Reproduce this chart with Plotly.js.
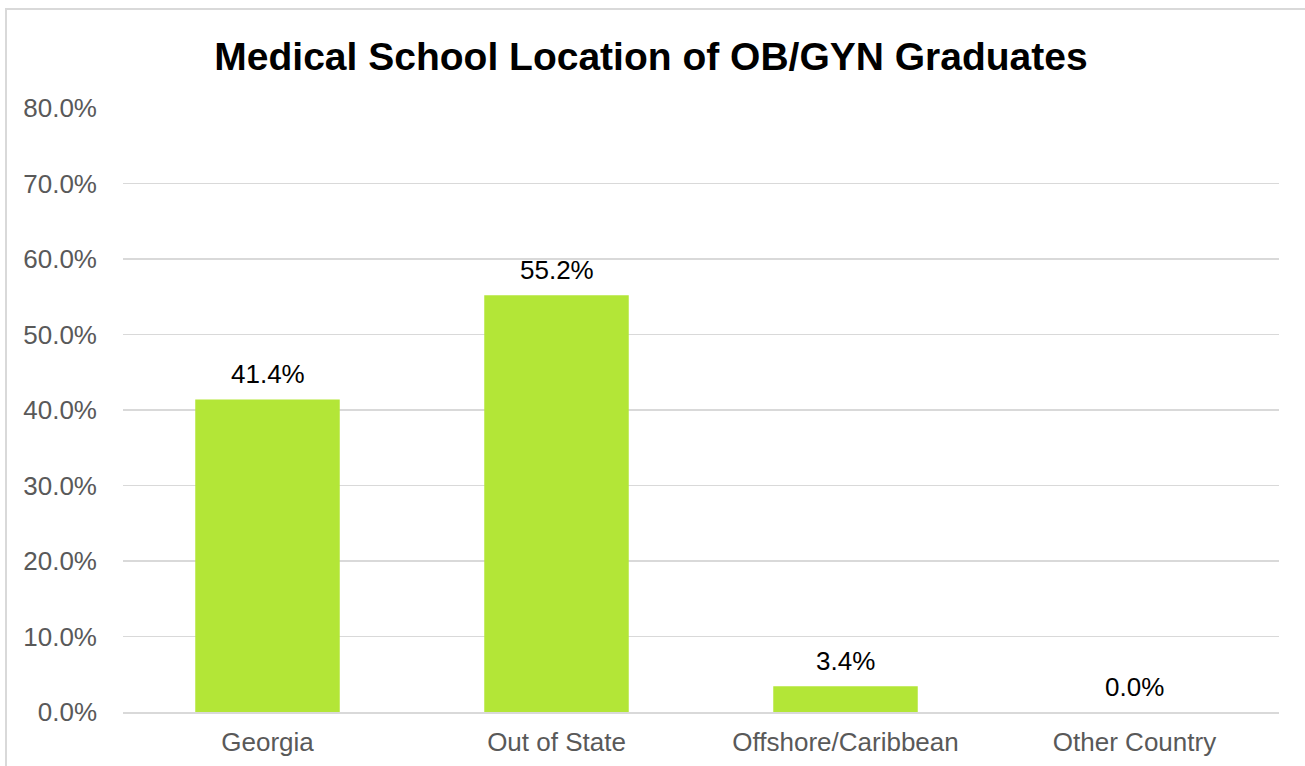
<!DOCTYPE html>
<html>
<head>
<meta charset="utf-8">
<script src="https://cdn.plot.ly/plotly-3.0.1.min.js"></script>
<style>
html,body{margin:0;padding:0;background:#fff;}
#wrap{position:relative;width:1305px;height:766px;overflow:hidden;}
#frame{position:absolute;left:5px;top:8px;width:1300px;height:758px;border-left:2px solid #d9d9d9;border-top:2px solid #d9d9d9;box-sizing:border-box;}
#chart{position:absolute;left:0;top:0;width:1305px;height:766px;}
</style>
</head>
<body>
<div id="wrap">
<div id="frame"></div>
<div id="chart"></div>
</div>
<script>
const categories = ["Georgia", "Out of State", "Offshore/Caribbean", "Other Country"];
const percentValues = [41.4, 55.2, 3.4, 0.0];
const tickValues = [0, 10, 20, 30, 40, 50, 60, 70, 80];
const tickLabels = ["0.0%", "10.0%", "20.0%", "30.0%", "40.0%", "50.0%", "60.0%", "70.0%", "80.0%"];

const FONT = "Liberation Sans, Arial, sans-serif";

const trace = {
  type: "bar",
  x: categories,
  y: percentValues,
  marker: {color: "#b3e637"},
  hoverinfo: "none"
};

const labelAnnotations = categories.map((c, i) => ({
  x: c, y: percentValues[i], xref: "x", yref: "y",
  text: percentValues[i].toFixed(1) + "%",
  showarrow: false, yanchor: "bottom", yshift: 8,
  font: {family: FONT, size: 26, color: "#000000"}
}));

const layout = {
  width: 1305,
  height: 766,
  paper_bgcolor: "rgba(0,0,0,0)",
  plot_bgcolor: "rgba(0,0,0,0)",
  margin: {l: 123, r: 26, t: 108, b: 54},
  bargap: 0.5,
  showlegend: false,
  title: {
    text: "<b>Medical School Location of OB/GYN Graduates</b>",
    font: {family: FONT, size: 39, color: "#000000"},
    x: 651/1305, xanchor: "center", xref: "container",
    y: 1 - 56/766, yref: "container", yanchor: "middle"
  },
  annotations: labelAnnotations,
  xaxis: {
    type: "category",
    tickfont: {family: FONT, size: 26, color: "#595959"},
    showline: true, linecolor: "#d9d9d9", linewidth: 1.5,
    ticks: "", showgrid: false, zeroline: false,
    ticklabelstandoff: 6
  },
  yaxis: {
    range: [0, 80],
    tickvals: tickValues,
    ticktext: tickLabels,
    tickfont: {family: FONT, size: 26, color: "#595959"},
    showgrid: true, gridcolor: "#d9d9d9", gridwidth: 1.5,
    zeroline: false, showline: false, ticks: "",
    ticklabelstandoff: 25
  }
};

Plotly.newPlot("chart", [trace], layout, {displayModeBar: false, staticPlot: true});
</script>
</body>
</html>
